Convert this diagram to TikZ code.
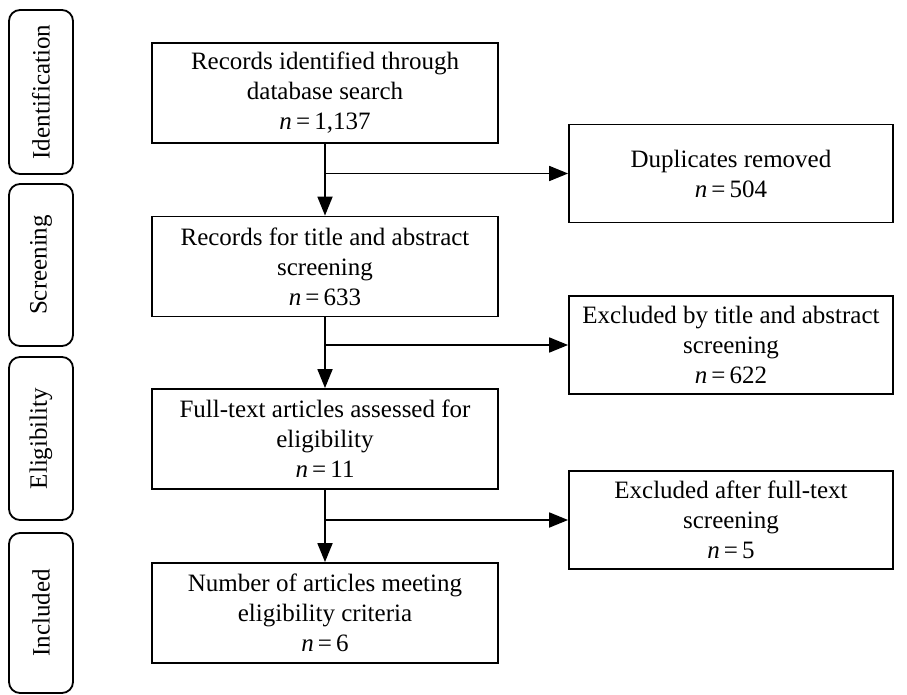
\documentclass[tikz,border=0pt]{standalone}
\usepackage{fontspec}
\setmainfont{Liberation Serif}
\usetikzlibrary{arrows.meta}
\newcommand{\nn}[1]{\textit{n}\,=\,#1}
\begin{document}
\begin{tikzpicture}[x=1pt,y=-1pt,
  txt/.style={font=\fontsize{25}{30}\selectfont},
  mainbox/.style={txt, draw, line width=1.8pt, minimum width=346pt, minimum height=100pt, align=center, inner sep=0pt},
  sidebox/.style={txt, draw, line width=1.8pt, minimum width=324pt, minimum height=98pt, align=center, inner sep=0pt},
  phase/.style={txt, draw, line width=1.8pt, rounded corners=11pt, minimum height=64pt, inner sep=0pt, rotate=90},
  conn/.style={line width=1.8pt},
  arr/.style={conn, -{Triangle[length=19pt,width=15pt]}}]
\useasboundingbox (0,0) rectangle (907,695);

% phase labels
\node[phase, minimum width=164pt] (pid) at (41,92) {Identification};
\node[phase, minimum width=162pt] (psc) at (41,265) {Screening};
\node[phase, minimum width=163pt] (pel) at (41,438.5) {Eligibility};
\node[phase, minimum width=160pt] (pin) at (41,613) {Included};

% main column
\node[mainbox] (b1) at (325,93) {Records identified through\\database search\\\nn{1,137}};
\node[mainbox] (b2) at (325,266.5) {Records for title and abstract\\screening\\\nn{633}};
\node[mainbox] (b3) at (325,439) {Full-text articles assessed for\\eligibility\\\nn{11}};
\node[mainbox] (b4) at (325,613) {Number of articles meeting\\eligibility criteria\\\nn{6}};

% side column
\node[sidebox] (r1) at (731,173.5) {Duplicates removed\\\nn{504}};
\node[sidebox] (r2) at (731,345) {Excluded by title and abstract\\screening\\\nn{622}};
\node[sidebox] (r3) at (731,520) {Excluded after full-text\\screening\\\nn{5}};

% junctions
\coordinate (j1) at (b1.south |- r1.west);
\coordinate (j2) at (b2.south |- r2.west);
\coordinate (j3) at (b3.south |- r3.west);

\draw[arr] (b1.south) -- (b2.north);
\draw[arr] (b2.south) -- (b3.north);
\draw[arr] (b3.south) -- (b4.north);
\draw[arr] (j1) -- (r1.west);
\draw[arr] (j2) -- (r2.west);
\draw[arr] (j3) -- (r3.west);
\end{tikzpicture}
\end{document}
